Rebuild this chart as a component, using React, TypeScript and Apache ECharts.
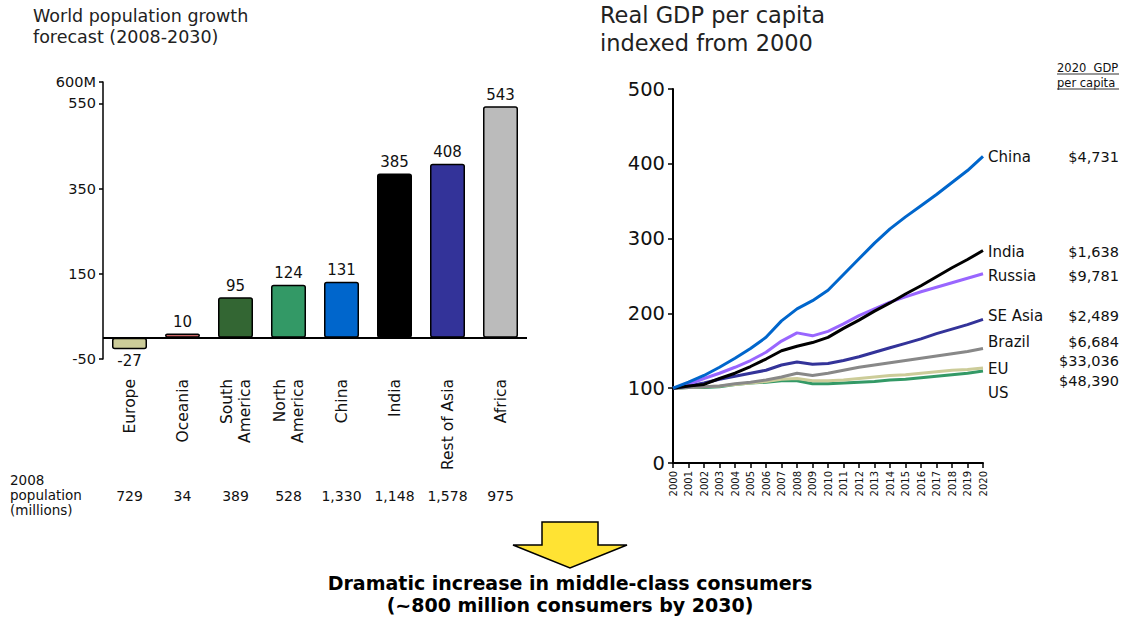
import React, { useEffect, useRef } from 'react';
import * as echarts from 'echarts';

// ---------- Left chart data ----------
const regions = ['Europe', 'Oceania', 'South\nAmerica', 'North\nAmerica', 'China', 'India', 'Rest of Asia', 'Africa'];
const growth = [-27, 10, 95, 124, 131, 385, 408, 543];
const population2008 = ['729', '34', '389', '528', '1,330', '1,148', '1,578', '975'];
const regionColors = ['#CCCC99', '#CC6666', '#336633', '#339966', '#0066CC', '#000000', '#333399', '#BBBBBB'];
const leftTicks = [-50, 150, 350, 550, 600];

// ---------- Right chart data ----------
const years = ['2000', '2001', '2002', '2003', '2004', '2005', '2006', '2007', '2008', '2009', '2010',
  '2011', '2012', '2013', '2014', '2015', '2016', '2017', '2018', '2019', '2020'];
const usIdx = [100, 101, 101, 102, 105, 107, 108, 110, 110, 106, 106, 107, 108, 109, 111, 112, 114, 116, 118, 120, 123];
const euIdx = [100, 101, 102, 103, 105, 107, 109, 112, 113, 110, 110, 111, 113, 115, 117, 118, 120, 122, 124, 125, 127];
const brazilIdx = [100, 101, 102, 103, 106, 108, 111, 115, 120, 117, 120, 124, 128, 131, 134, 137, 140, 143, 146, 149, 153];
const seAsiaIdx = [100, 103, 107, 112, 116, 120, 124, 131, 135, 132, 133, 137, 142, 148, 154, 160, 166, 173, 179, 185, 192];
const russiaIdx = [100, 105, 113, 120, 128, 137, 148, 163, 174, 170, 176, 186, 197, 206, 215, 222, 229, 235, 241, 247, 253];
const indiaIdx = [100, 103, 105, 113, 120, 129, 139, 150, 156, 161, 168, 180, 191, 203, 214, 226, 237, 249, 261, 272, 284];
const chinaIdx = [100, 108, 117, 128, 140, 153, 168, 190, 206, 217, 231, 252, 273, 294, 313, 329, 344, 359, 375, 391, 410];
const countryNames = ['US', 'EU', 'Brazil', 'SE Asia', 'Russia', 'India', 'China'];
const gdp2020 = ['$48,390', '$33,036', '$6,684', '$2,489', '$9,781', '$1,638', '$4,731'];
const countrySeries = [usIdx, euIdx, brazilIdx, seAsiaIdx, russiaIdx, indiaIdx, chinaIdx];

// ---------- Styles ----------
const FONT = 'DejaVu Sans';
const TXT = '#111';
const countryColors = ['#339966', '#CCCC99', '#888888', '#333399', '#9966FF', '#000000', '#0066CC'];
// per-series end label layout: [vertical offset, two-line, lineHeight]
const endLabelLayout: [number, boolean, number][] = [
  [16, true, 12],
  [-3, true, 8],
  [-7, false, 18],
  [-3, false, 18],
  [2, false, 18],
  [1, false, 18],
  [1, false, 18],
];

export default function App() {
  const ref = useRef<HTMLDivElement>(null);

  useEffect(() => {
    if (!ref.current) return;
    const chart = echarts.init(ref.current, null, { renderer: 'svg' });

    const barData = growth.map((v, i) => ({
      value: v,
      itemStyle: { color: regionColors[i], borderColor: '#000', borderWidth: 1.5, borderRadius: 2 },
      label: { position: v < 0 ? 'bottom' : 'top' },
    }));

    const rich = {
      n: { width: 78, fontSize: 15, color: TXT, fontFamily: FONT },
      g: { width: 53, align: 'right', fontSize: 14.5, color: TXT, fontFamily: FONT },
      s: { width: 78 },
    };

    const lineSeries = countrySeries.map((data, i) => {
      const [dy, twoLine, lh] = endLabelLayout[i];
      const r: any = {
        n: { ...rich.n, lineHeight: lh },
        g: { ...rich.g, lineHeight: lh },
        s: { ...rich.s, lineHeight: lh },
      };
      return {
        type: 'line',
        name: countryNames[i],
        xAxisIndex: 2,
        yAxisIndex: 1,
        data,
        symbol: 'none',
        lineStyle: { color: countryColors[i], width: 3 },
        itemStyle: { color: countryColors[i] },
        z: 3 + i,
        endLabel: {
          show: true,
          distance: 5,
          offset: [0, dy],
          formatter: twoLine
            ? `{s|}{g|${gdp2020[i]}}\n{n|${countryNames[i]}}`
            : `{n|${countryNames[i]}}{g|${gdp2020[i]}}`,
          rich: r,
        },
      };
    });

    const option: any = {
      animation: false,
      backgroundColor: '#fff',
      textStyle: { fontFamily: FONT },
      title: [
        {
          text: 'World population growth\nforecast (2008-2030)',
          left: 33, top: 5, padding: 0,
          textStyle: { fontSize: 17.5, fontWeight: 'normal', color: '#222', lineHeight: 21, fontFamily: FONT },
        },
        {
          text: 'Real GDP per capita\nindexed from 2000',
          left: 600, top: 1, padding: 0,
          textStyle: { fontSize: 22.5, fontWeight: 'normal', color: '#222', lineHeight: 28, fontFamily: FONT },
        },
      ],
      grid: [
        { left: 103, top: 82, width: 424, height: 277 },
        { left: 673, top: 89, width: 310, height: 374 },
      ],
      xAxis: [
        {
          type: 'category', gridIndex: 0, data: regions,
          axisLine: { show: false }, axisTick: { show: false },
          axisLabel: { rotate: 90, interval: 0, margin: 20, fontSize: 15.5, lineHeight: 18, color: TXT, fontFamily: FONT },
        },
        {
          type: 'category', gridIndex: 0, data: population2008, position: 'bottom', offset: 122,
          axisLine: { show: false }, axisTick: { show: false },
          axisLabel: { interval: 0, margin: 8, fontSize: 14, color: TXT, fontFamily: FONT },
        },
        {
          type: 'category', gridIndex: 1, data: years, boundaryGap: false,
          axisLine: { show: true, lineStyle: { color: '#000', width: 2 } },
          axisTick: { show: true, interval: 0, length: 5, lineStyle: { color: '#000', width: 1.5 } },
          axisLabel: { rotate: 90, interval: 0, margin: 8, fontSize: 10, color: TXT, fontFamily: FONT },
        },
      ],
      yAxis: [
        {
          type: 'value', gridIndex: 0, min: -50, max: 600,
          axisLine: { show: true, lineStyle: { color: '#000', width: 1.5 } },
          axisTick: { show: true, length: 4, customValues: leftTicks, lineStyle: { color: '#000', width: 1.5 } },
          axisLabel: {
            customValues: leftTicks, margin: 7, fontSize: 14.5, color: TXT, fontFamily: FONT,
            formatter: (v: number) => (v === 600 ? '600M' : String(v)),
          },
          splitLine: { show: false },
        },
        {
          type: 'value', gridIndex: 1, min: 0, max: 500, interval: 100,
          axisLine: { show: true, lineStyle: { color: '#000', width: 2 } },
          axisTick: { show: true, length: 5, lineStyle: { color: '#000', width: 1.5 } },
          axisLabel: { margin: 8, fontSize: 19.5, color: TXT, fontFamily: FONT },
          splitLine: { show: false },
        },
      ],
      series: [
        {
          type: 'bar', xAxisIndex: 0, yAxisIndex: 0, data: barData, barWidth: 35,
          label: { show: true, distance: 4, fontSize: 15, color: TXT, fontFamily: FONT },
          markLine: {
            silent: true, symbol: 'none', label: { show: false },
            lineStyle: { color: '#000', width: 2, type: 'solid' },
            data: [{ yAxis: 0 }],
          },
        },
        ...lineSeries,
      ],
      graphic: [
        {
          type: 'text', left: 10, top: 472,
          style: { text: '2008\npopulation\n(millions)', fontSize: 13.5, lineHeight: 15, fill: TXT, fontFamily: FONT },
        },
        {
          type: 'text', left: 1057, top: 60,
          style: { text: '2020  GDP\nper capita', fontSize: 11.5, lineHeight: 15, fill: TXT, fontFamily: FONT },
        },
        { type: 'line', shape: { x1: 1057, y1: 74, x2: 1119, y2: 74 }, style: { stroke: '#333', lineWidth: 1 } },
        { type: 'line', shape: { x1: 1057, y1: 89, x2: 1119, y2: 89 }, style: { stroke: '#333', lineWidth: 1 } },
        {
          type: 'polygon',
          shape: { points: [[542, 522], [598, 522], [598, 545], [627, 545], [570, 568], [513, 545], [542, 545]] },
          style: { fill: '#FFE333', stroke: '#000', lineWidth: 1.5 },
        },
        {
          type: 'text', x: 570, y: 572,
          style: {
            text: 'Dramatic increase in middle-class consumers\n(~800 million consumers by 2030)',
            fontSize: 19, fontWeight: 'bold', lineHeight: 22, fill: '#000',
            align: 'center', verticalAlign: 'top', fontFamily: FONT,
          },
        },
      ],
    };

    chart.setOption(option);
    return () => chart.dispose();
  }, []);

  return <div ref={ref} style={{ position: 'absolute', left: 0, top: 0, width: 1122, height: 622 }} />;
}
